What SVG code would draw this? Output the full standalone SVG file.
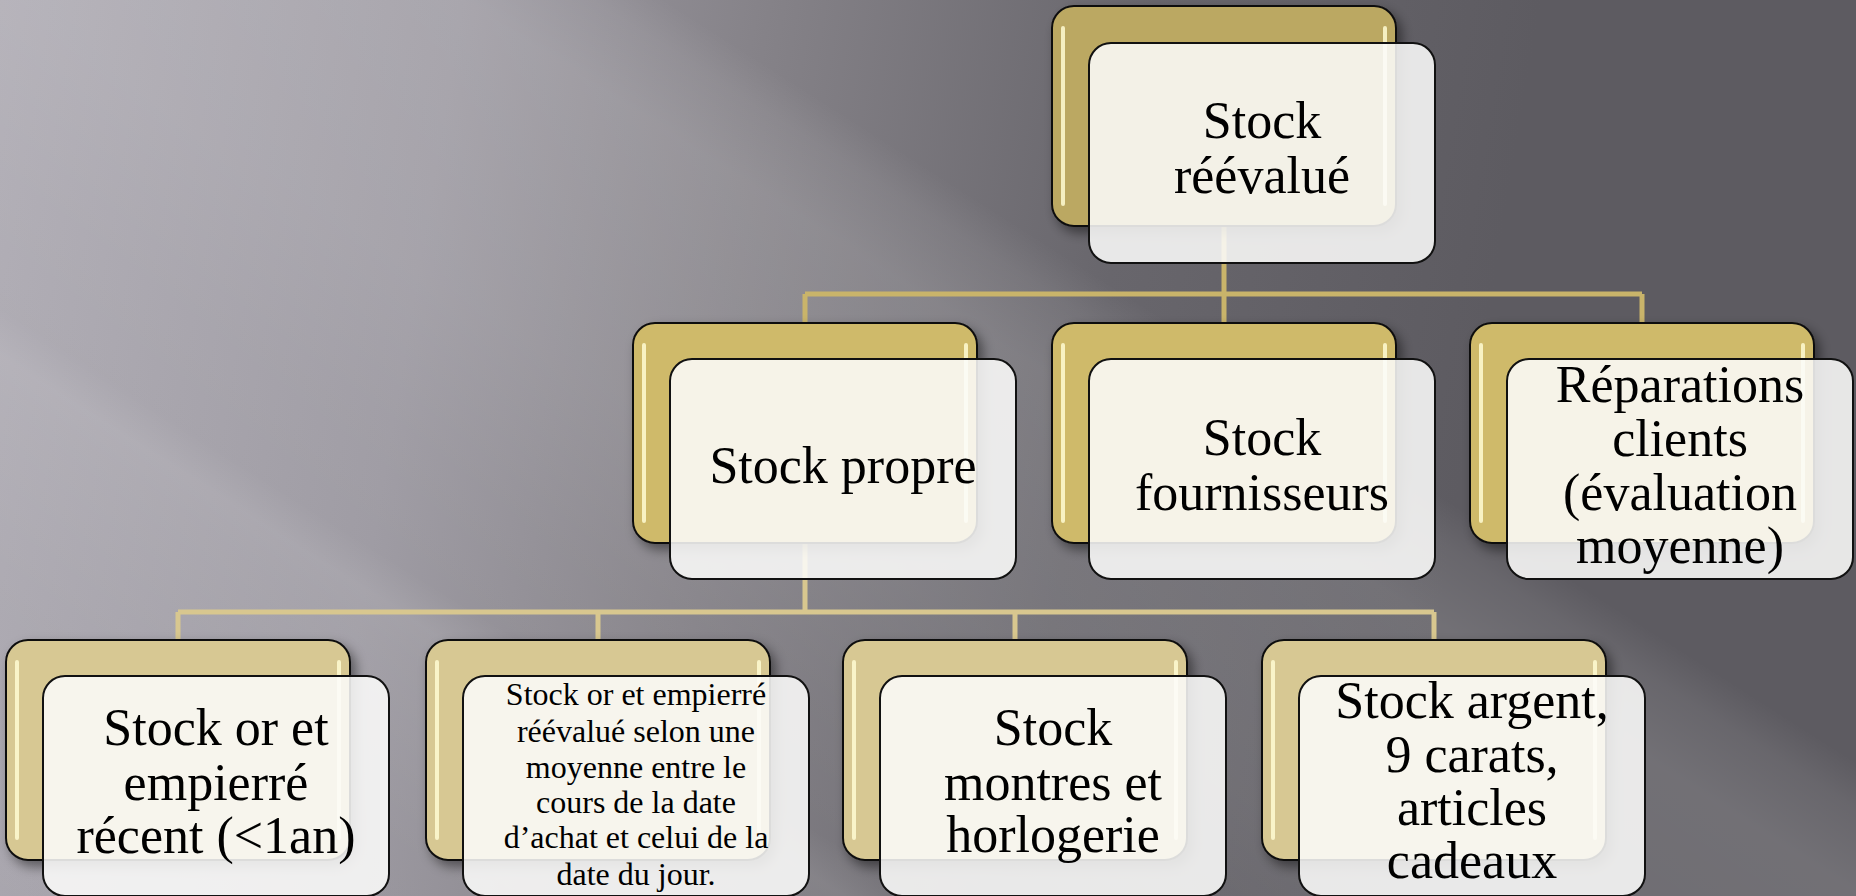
<svg xmlns="http://www.w3.org/2000/svg" width="1856" height="896" viewBox="0 0 1856 896">
<defs>
<linearGradient id="bg" gradientUnits="userSpaceOnUse" x1="0" y1="0" x2="1500" y2="250">
<stop offset="0" stop-color="#afacb4"/>
<stop offset="0.3" stop-color="#9c99a1"/>
<stop offset="0.5" stop-color="#858288"/>
<stop offset="0.75" stop-color="#68666c"/>
<stop offset="1" stop-color="#5d5b61"/>
</linearGradient>
<linearGradient id="beams" gradientUnits="userSpaceOnUse" x1="-431" y1="674" x2="539" y2="-842">
<stop offset="0" stop-color="#fff" stop-opacity="0"/>
<stop offset="0.167" stop-color="#fff" stop-opacity="0.03"/>
<stop offset="0.261" stop-color="#fff" stop-opacity="0.09"/>
<stop offset="0.278" stop-color="#fff" stop-opacity="0.11"/>
<stop offset="0.30" stop-color="#fff" stop-opacity="0.03"/>
<stop offset="0.361" stop-color="#fff" stop-opacity="0.05"/>
<stop offset="0.444" stop-color="#fff" stop-opacity="0.10"/>
<stop offset="0.583" stop-color="#fff" stop-opacity="0.13"/>
<stop offset="0.622" stop-color="#fff" stop-opacity="0.07"/>
<stop offset="0.644" stop-color="#fff" stop-opacity="0"/>
<stop offset="1" stop-color="#fff" stop-opacity="0"/>
</linearGradient>
<filter id="sh" x="-10%" y="-10%" width="125%" height="130%">
<feDropShadow dx="5" dy="6" stdDeviation="6" flood-color="#000" flood-opacity="0.45"/>
</filter>
<style>
.gold{stroke:#111;stroke-width:2;filter:url(#sh)}
.g0{fill:#bba862}
.g1{fill:#cfba6a}
.g2{fill:#d7c893}
.hl{stroke:#fffbd2;stroke-width:4;stroke-linecap:round;fill:none;opacity:0.85}
.front{fill:#fcfcfa;fill-opacity:0.87;stroke:#111;stroke-width:2}
.t{font-family:"Palatino Linotype","Book Antiqua","Liberation Serif",serif;font-size:52px;fill:#000;text-anchor:middle}
.s{font-size:32px}
.c1{stroke:#c9b46a;stroke-width:5;fill:none}
.c2{stroke:#d8c78f;stroke-width:5;fill:none}
</style>
</defs>
<rect x="0" y="0" width="1856" height="896" fill="url(#bg)"/>
<rect x="0" y="0" width="1856" height="896" fill="url(#beams)"/>

<g id="connectors">
<path class="c1" d="M1224 226 V294 M805 294 H1642 M805 294 V323 M1224 294 V323 M1642 294 V323"/>
<path class="c2" d="M805 543 V612 M178 612 H1434 M178 612 V640 M598 612 V640 M1015 612 V640 M1434 612 V640"/>
</g>

<g id="n-root">
<rect class="gold g0" x="1052" y="6" width="344" height="220" rx="22"/>
<path class="hl" d="M1063 28 V204 M1385 28 V204"/>
<rect class="front" x="1089" y="43" width="346" height="220" rx="22"/>
<text class="t" x="1262" y="138">Stock</text>
<text class="t" x="1262" y="193">réévalué</text>
</g>

<g id="n-propre">
<rect class="gold g1" x="633" y="323" width="344" height="220" rx="22"/>
<path class="hl" d="M644 345 V521 M966 345 V521"/>
<rect class="front" x="670" y="359" width="346" height="220" rx="22"/>
<text class="t" x="843" y="483">Stock propre</text>
</g>

<g id="n-fourn">
<rect class="gold g1" x="1052" y="323" width="344" height="220" rx="22"/>
<path class="hl" d="M1063 345 V521 M1385 345 V521"/>
<rect class="front" x="1089" y="359" width="346" height="220" rx="22"/>
<text class="t" x="1262" y="455">Stock</text>
<text class="t" x="1262" y="510">fournisseurs</text>
</g>

<g id="n-repar">
<rect class="gold g1" x="1470" y="323" width="344" height="220" rx="22"/>
<path class="hl" d="M1481 345 V521 M1803 345 V521"/>
<rect class="front" x="1507" y="359" width="346" height="220" rx="22"/>
<text class="t" x="1680" y="402">Réparations</text>
<text class="t" x="1680" y="456">clients</text>
<text class="t" x="1680" y="510">(évaluation</text>
<text class="t" x="1680" y="563">moyenne)</text>
</g>

<g id="n-recent">
<rect class="gold g2" x="6" y="640" width="344" height="220" rx="22"/>
<path class="hl" d="M17 662 V838 M339 662 V838"/>
<rect class="front" x="43" y="676" width="346" height="220" rx="22"/>
<text class="t" x="216" y="745">Stock or et</text>
<text class="t" x="216" y="800">empierré</text>
<text class="t" x="216" y="853">récent (&lt;1an)</text>
</g>

<g id="n-moyenne">
<rect class="gold g2" x="426" y="640" width="344" height="220" rx="22"/>
<path class="hl" d="M437 662 V838 M759 662 V838"/>
<rect class="front" x="463" y="676" width="346" height="220" rx="22"/>
<text class="t s" x="636" y="705">Stock or et empierré</text>
<text class="t s" x="636" y="742">réévalué selon une</text>
<text class="t s" x="636" y="778">moyenne entre le</text>
<text class="t s" x="636" y="813">cours de la date</text>
<text class="t s" x="636" y="848">d’achat et celui de la</text>
<text class="t s" x="636" y="885">date du jour.</text>
</g>

<g id="n-montres">
<rect class="gold g2" x="843" y="640" width="344" height="220" rx="22"/>
<path class="hl" d="M854 662 V838 M1176 662 V838"/>
<rect class="front" x="880" y="676" width="346" height="220" rx="22"/>
<text class="t" x="1053" y="745">Stock</text>
<text class="t" x="1053" y="800">montres et</text>
<text class="t" x="1053" y="852">horlogerie</text>
</g>

<g id="n-argent">
<rect class="gold g2" x="1262" y="640" width="344" height="220" rx="22"/>
<path class="hl" d="M1273 662 V838 M1595 662 V838"/>
<rect class="front" x="1299" y="676" width="346" height="220" rx="22"/>
<text class="t" x="1472" y="718">Stock argent,</text>
<text class="t" x="1472" y="772">9 carats,</text>
<text class="t" x="1472" y="825">articles</text>
<text class="t" x="1472" y="878">cadeaux</text>
</g>
</svg>
